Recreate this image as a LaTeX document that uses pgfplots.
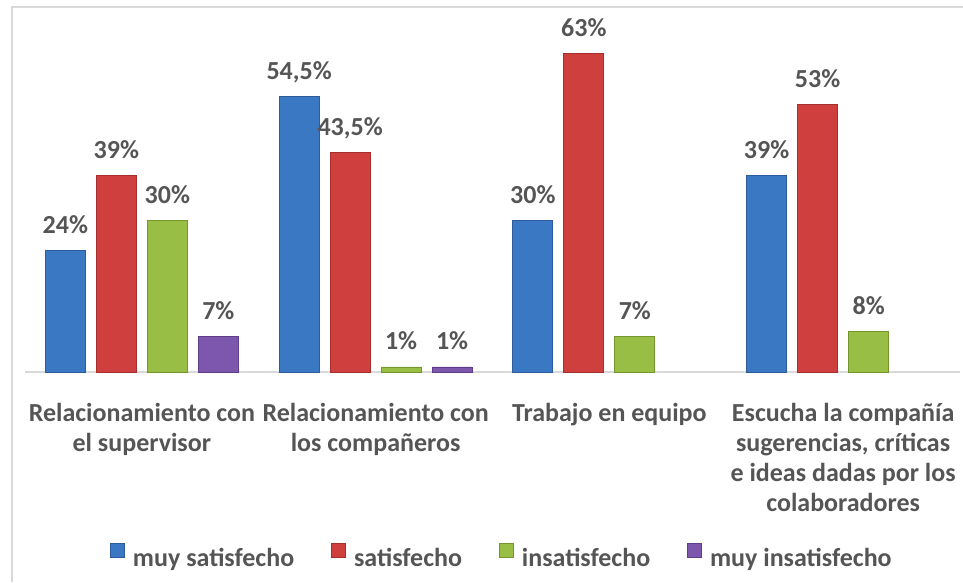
\documentclass[border=0pt]{standalone}
\usepackage{pgfplots}
\pgfplotsset{compat=1.18}
\usepackage{fontspec}
\setmainfont{Carlito}
\definecolor{cblue}{HTML}{3A78C3}
\definecolor{cblueD}{HTML}{2C5C9A}
\definecolor{cred}{HTML}{CF3F3D}
\definecolor{credD}{HTML}{A52F2D}
\definecolor{cgreen}{HTML}{98BE45}
\definecolor{cgreenD}{HTML}{76952F}
\definecolor{cpurple}{HTML}{7D56AD}
\definecolor{cpurpleD}{HTML}{5F3E88}
\definecolor{lgray}{HTML}{D9D9D9}
\definecolor{tgray}{HTML}{555555}
\newcommand\myfont{\fontsize{26}{30}\selectfont\bfseries}
\begin{document}
\begin{tikzpicture}
\useasboundingbox (0,0) rectangle (963pt,582pt);
\draw[color=lgray, line width=2pt] (12pt,0pt) -- (12pt,575pt) -- (963pt,575pt);
\begin{axis}[
 at={(25pt,210pt)}, anchor=south west,
 scale only axis, width=935pt, height=353.5pt,
 xmin=-0.5, xmax=3.5, ymin=0, ymax=70,
 axis y line=none, axis x line=bottom,
 x axis line style={-, draw=lgray, line width=2pt},
 xtick={0,1,2,3},
 xticklabels={{Relacionamiento con\\el supervisor},{Relacionamiento con\\los compañeros},{Trabajo en equipo},{Escucha la compañía\\sugerencias, críticas\\e ideas dadas por los\\colaboradores}},
 xtick style={draw=none},
 xticklabel style={align=center, anchor=north, inner sep=0pt, yshift=-27pt, text=tgray, font=\myfont},
 ybar, bar width=40pt,
 nodes near coords, point meta=explicit symbolic,
 every node near coord/.append style={anchor=base, inner sep=0pt, yshift=17pt, text=tgray, font=\myfont},
 clip=false,
 legend columns=4,
 legend style={at={(0.0909,-0.52)}, anchor=west, draw=none, fill=none, inner sep=0pt, font=\myfont, text=tgray, nodes={inner sep=0pt}, /tikz/every odd column/.append style={column sep=8pt}, /tikz/every even column/.append style={column sep=37pt}},
 legend image code/.code={\draw[#1] (0pt,1pt) rectangle (14pt,15pt);},
]
\addplot[draw=cblueD, line width=0.8pt, fill=cblue, bar shift=-76.5pt]
 coordinates {(0,24) [24\%] (1,54.5) [54,5\%] (2,30) [30\%] (3,39) [39\%]};
\addplot[draw=credD, line width=0.8pt, fill=cred, bar shift=-25.5pt]
 coordinates {(0,39) [39\%] (1,43.5) [43,5\%] (2,63) [63\%] (3,53) [53\%]};
\addplot[draw=cgreenD, line width=0.8pt, fill=cgreen, bar shift=25.5pt]
 coordinates {(0,30) [30\%] (1,1) [1\%] (2,7) [7\%] (3,8) [8\%]};
\addplot[draw=cpurpleD, line width=0.8pt, fill=cpurple, bar shift=76.5pt]
 coordinates {(0,7) [7\%] (1,1) [1\%]};
\legend{muy satisfecho, satisfecho, insatisfecho, muy insatisfecho}
\end{axis}
\end{tikzpicture}
\end{document}
